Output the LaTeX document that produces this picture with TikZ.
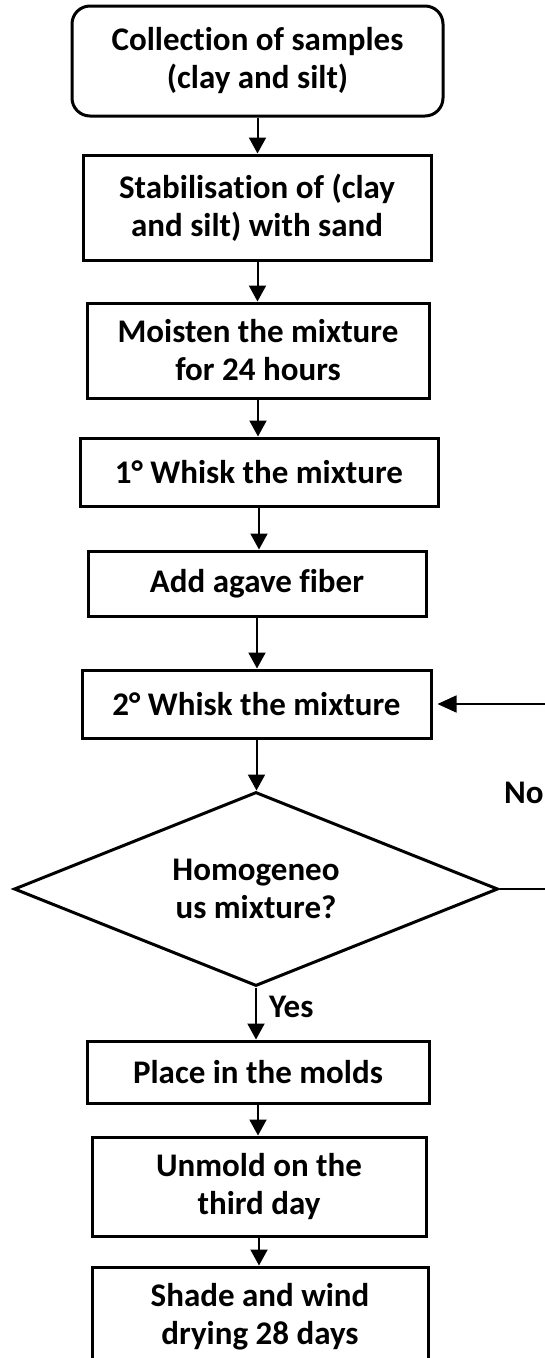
\documentclass[tikz,border=0pt]{standalone}
\usepackage{fontspec}
\setmainfont{Carlito}[Ligatures={NoCommon}]
\usetikzlibrary{shapes.geometric,arrows.meta}
\begin{document}
\begin{tikzpicture}[x=1pt,y=-1pt,
  lbl/.style={font=\fontsize{33}{38}\selectfont\bfseries},
  box/.style={draw,line width=3pt,inner sep=0pt,align=center,lbl},
  decision/.style={draw,diamond,line width=3pt,inner sep=0pt,align=center,lbl,aspect=2.5},
  arr/.style={line width=2pt,-{Triangle[width=17pt,length=16pt]}},
  thinarr/.style={line width=1.5pt,-{Triangle[width=17pt,length=19pt]},shorten >=5pt}]
\useasboundingbox (0,0) rectangle (545,1358);
\node[box,rounded corners=18pt,minimum width=371pt,minimum height=110pt] (b1) at (257.5,61) {Collection of samples\\(clay and silt)};
\node[box,minimum width=348pt,minimum height=105pt] (b2) at (257,207.5) {Stabilisation of (clay\\and silt) with sand};
\node[box,minimum width=342pt,minimum height=95pt] (b3) at (258,350.5) {Moisten the mixture\\for 24 hours};
\node[box,minimum width=358pt,minimum height=68pt] (b4) at (259,472) {1° Whisk the mixture};
\node[box,minimum width=338pt,minimum height=65pt] (b5) at (257,583.5) {Add agave fiber};
\node[box,minimum width=349pt,minimum height=68pt] (b6) at (256.5,704) {2° Whisk the mixture};
\node[decision,minimum width=484pt,minimum height=194pt] (d) at (256,889) {Homogeneo\\us mixture?};
\node[box,minimum width=342pt,minimum height=62pt] (b7) at (258,1072) {Place in the molds};
\node[box,minimum width=334pt,minimum height=99pt] (b8) at (259,1186.5) {Unmold on the\\third day};
\node[box,minimum width=336pt,minimum height=100pt] (b9) at (260,1317) {Shade and wind\\drying 28 days};
\node[lbl,anchor=base west,inner sep=0pt] (no) at (504,803) {No};
\node[lbl,anchor=base west,inner sep=0pt] (yes) at (269,1017) {Yes};
\coordinate (c1) at (565,889);
\coordinate (c2) at (565,704);
\draw[arr] (b1.south) -- (b1.south |- b2.north);
\draw[arr] (b1.south |- b2.south) -- (b1.south |- b3.north);
\draw[arr] (b3.south) -- (b3.south |- b4.north);
\draw[arr] (b4.south) -- (b4.south |- b5.north);
\draw[arr] (b5.south) -- (b5.south |- b6.north);
\draw[arr] (b6.south) -- (b6.south |- d.north);
\draw[arr] (d.south) -- (d.south |- b7.north);
\draw[arr] (b7.south) -- (b7.south |- b8.north);
\draw[arr] (b8.south) -- (b8.south |- b9.north);
\draw[thinarr] (d.east) -- (c1) -- (c2) -- (b6.east);
\end{tikzpicture}
\end{document}
